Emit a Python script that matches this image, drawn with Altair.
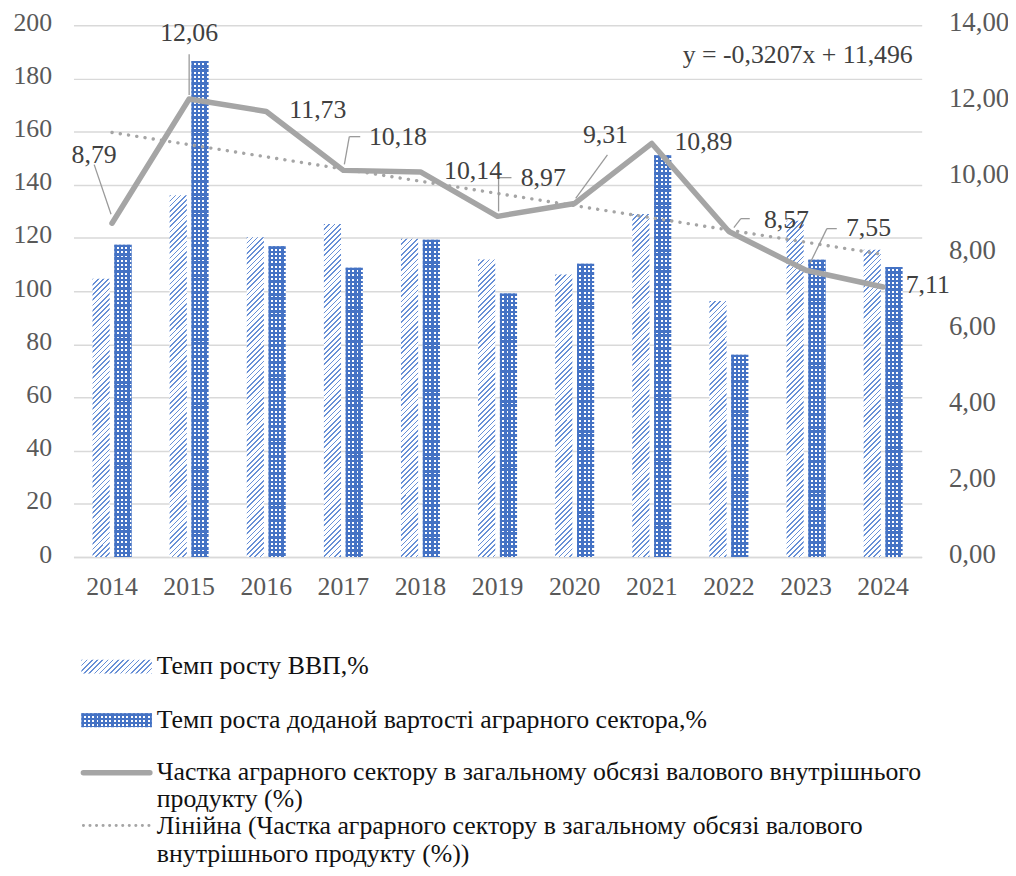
import math
import altair as alt
import pandas as pd

# ---------------- data ----------------
years = [2014, 2015, 2016, 2017, 2018, 2019, 2020, 2021, 2022, 2023, 2024]
gdp_growth = [104.7, 136.1, 120.3, 125.3, 119.7, 111.9, 106.3, 129.0, 96.3, 126.5, 115.6]
agri_growth = [117.5, 186.6, 116.9, 108.8, 119.3, 99.1, 110.3, 151.1, 76.1, 111.8, 109.1]
agri_share = [8.79, 12.06, 11.73, 10.18, 10.14, 8.97, 9.31, 10.89, 8.57, 7.55, 7.11]
left_ticks = [0, 20, 40, 60, 80, 100, 120, 140, 160, 180, 200]
right_ticks = [0, 2, 4, 6, 8, 10, 12, 14]
legend_lines = [
    ["Темп росту ВВП,%"],
    ["Темп роста доданой вартості аграрного сектора,%"],
    ["Частка аграрного сектору в загальному обсязі валового внутрішнього", "продукту (%)"],
    ["Лінійна (Частка аграрного сектору в загальному обсязі валового", "внутрішнього продукту (%))"],
]
trend_text = "y = -0,3207x + 11,496"

# ---------------- layout / style ----------------
W, H = 855, 536
N = len(years)
STEP = W / N
GROUP = 39.3
PI = 1 - GROUP / STEP
OFF_PI = 0.214
BW = GROUP / (2 - OFF_PI) * (1 - OFF_PI)
BLUE = "#4472C4"
HATCH = "#6890d6"
GRAY = "#A5A5A5"
LEAD = "#9A9A9A"
FONT = "Times New Roman, Liberation Serif, DejaVu Serif, serif"
AX_COL = "#595959"
LBL_COL = "#404040"


def r4(v):
    return round(v, 4)


def hatch_gradient(w, h, period=3.7, frac=0.32, color=HATCH, bg="#FFFFFF"):
    d = (w + h) / math.sqrt(2)
    n = d / period
    s = (w + h) / (w * w + h * h)
    stops = []
    k = 0
    while k < n:
        t0 = r4(k / n)
        t1 = r4(min((k + frac) / n, 1))
        t2 = r4(min((k + 1) / n, 1))
        stops += [
            {"offset": t0, "color": color},
            {"offset": t1, "color": color},
            {"offset": t1, "color": bg},
            {"offset": t2, "color": bg},
        ]
        k += 1
    return {"gradient": "linear", "x1": 0, "y1": 0, "x2": r4(w * s), "y2": r4(h * s), "stops": stops}


def stripe_gradient(length, vertical, period=4.3, frac=0.55, color=BLUE, bg="#FFFFFF"):
    n = length / period
    stops = []
    k = 0
    while k < n:
        t0 = r4(k / n)
        t1 = r4(min((k + frac) / n, 1))
        t2 = r4(min((k + 1) / n, 1))
        stops += [
            {"offset": t0, "color": color},
            {"offset": t1, "color": color},
            {"offset": t1, "color": bg},
            {"offset": t2, "color": bg},
        ]
        k += 1
    if vertical:
        return {"gradient": "linear", "x1": 0, "y1": 0, "x2": 0, "y2": 1, "stops": stops}
    return {"gradient": "linear", "x1": 0, "y1": 0, "x2": 1, "y2": 0, "stops": stops}


TRANSP = "rgba(68,114,196,0)"

bars_df = pd.DataFrame({
    "year": years * 2,
    "series": ["gdp"] * N + ["agri"] * N,
    "value": gdp_growth + agri_growth,
})
share_df = pd.DataFrame({"year": years, "share": agri_share})
one = pd.DataFrame({"a": [0]})

x_enc = alt.X(
    "year:O",
    scale=alt.Scale(domain=years, paddingInner=PI, paddingOuter=PI / 2),
    axis=alt.Axis(title=None, labelAngle=0, ticks=False, grid=False,
                  domainColor="#D9D9D9", domainWidth=1.5,
                  labelFont=FONT, labelFontSize=26, labelColor=AX_COL, labelPadding=17),
)
xoff_enc = alt.XOffset("series:N", scale=alt.Scale(domain=["gdp", "agri"], paddingInner=OFF_PI, paddingOuter=0))
y_left = alt.Y(
    "value:Q",
    scale=alt.Scale(domain=[0, 200], nice=False),
    axis=alt.Axis(title=None, values=left_ticks, grid=True, gridColor="#D9D9D9", gridWidth=1.5,
                  domain=False, ticks=False, labelFont=FONT, labelFontSize=26,
                  labelColor=AX_COL, labelPadding=22, labelOffset=-3),
)
y_right = alt.Y(
    "share:Q",
    scale=alt.Scale(domain=[0, 14], nice=False),
    axis=alt.Axis(title=None, orient="right", values=right_ticks, grid=False, domain=False,
                  ticks=False, labelFont=FONT, labelFontSize=27, labelColor=AX_COL,
                  labelPadding=27, labelOffset=-3,
                  labelExpr="replace(format(datum.value, '.2f'), '.', ',')"),
)

gdp_fill = {
    "condition": [
        {"test": f"datum.year === {yr}", "value": hatch_gradient(BW, v * H / 200)}
        for yr, v in zip(years, gdp_growth)
    ],
    "value": "#a9bde6",
}
agri_over_fill = {
    "condition": [
        {"test": f"datum.year === {yr}", "value": stripe_gradient(v * H / 200, True, bg=TRANSP)}
        for yr, v in zip(years, agri_growth)
    ],
    "value": TRANSP,
}

gdp_bars = alt.Chart(bars_df).transform_filter("datum.series === 'gdp'").mark_bar().encode(
    x=x_enc, xOffset=xoff_enc, y=y_left, fill=gdp_fill)
agri_base = alt.Chart(bars_df).transform_filter("datum.series === 'agri'").mark_bar(
    fill=stripe_gradient(BW, False)).encode(x=x_enc, xOffset=xoff_enc, y=y_left)
agri_over = alt.Chart(bars_df).transform_filter("datum.series === 'agri'").mark_bar().encode(
    x=x_enc, xOffset=xoff_enc, y=y_left, fill=agri_over_fill)

left_layer = alt.layer(gdp_bars, agri_base, agri_over)

share_line = alt.Chart(share_df).mark_line(
    color=GRAY, strokeWidth=5.5, strokeJoin="round", strokeCap="round").encode(x=x_enc, y=y_right)

trend = (
    alt.Chart(share_df)
    .transform_calculate(idx="datum.year - 2013")
    .transform_regression("idx", "share")
    .transform_calculate(year="datum.idx + 2013")
    .mark_line(color=GRAY, strokeWidth=3.4, strokeDash=[0.1, 8.3], strokeCap="round")
    .encode(x=x_enc, y=y_right)
)

label_offsets = {
    2014: (-18, -69), 2015: (0, -66), 2016: (52, -1), 2017: (55, -34), 2018: (53, -1),
    2019: (46, -39), 2020: (31, -69), 2021: (52, -1), 2022: (58, -12), 2023: (63, -43),
    2024: (45, -2),
}
leaders = {
    2014: [(-18, -59, -1, -9)],
    2015: [(0, -45, 0, -4)],
    2017: [(1, -6, 6, -34), (6, -34, 17, -34)],
    2019: [(1, -5, 1, -39), (1, -39, 14, -39)],
    2020: [(1, -5, 33, -49)],
    2022: [(5, -4, 12, -13), (12, -13, 21, -13)],
    2023: [(4, -7, 21, -42), (21, -42, 31, -42)],
}

label_layers = []
for yr, (dx, dy) in label_offsets.items():
    label_layers.append(
        alt.Chart(share_df)
        .transform_filter(f"datum.year === {yr}")
        .transform_calculate(label="replace(format(datum.share, '.2f'), '.', ',')")
        .mark_text(dx=dx, dy=dy, font=FONT, fontSize=26, color=LBL_COL, align="center", baseline="middle")
        .encode(x=x_enc, y=y_right, text="label:N")
    )

leader_layers = []
for yr, segs in leaders.items():
    for (a, b, c, d) in segs:
        leader_layers.append(
            alt.Chart(share_df)
            .transform_filter(f"datum.year === {yr}")
            .mark_rule(color=LEAD, strokeWidth=1.3, xOffset=a, yOffset=b, x2Offset=c, y2Offset=d)
            .encode(x=x_enc, x2=alt.X2("year", bandPosition=0.5), y=y_right, y2=alt.Y2("share"))
        )

equation = alt.Chart(one).mark_text(
    text=trend_text, align="right", baseline="middle", font=FONT, fontSize=26, color=LBL_COL
).encode(x=alt.value(846), y=alt.value(30))

# ---------------- legend ----------------
SW_X0, SW_X1, TX = 8, 79, 84
SW_W = SW_X1 - SW_X0
legend_layers = [
    alt.Chart(one).mark_rect(fill=hatch_gradient(SW_W, 14)).encode(
        x=alt.value(SW_X0), x2=alt.value(SW_X1), y=alt.value(639.5), y2=alt.value(653.5)),
    alt.Chart(one).mark_rect(fill=stripe_gradient(SW_W, False)).encode(
        x=alt.value(SW_X0), x2=alt.value(SW_X1), y=alt.value(693.5), y2=alt.value(707.5)),
    alt.Chart(one).mark_rect(fill=stripe_gradient(14, True, bg=TRANSP)).encode(
        x=alt.value(SW_X0), x2=alt.value(SW_X1), y=alt.value(693.5), y2=alt.value(707.5)),
    alt.Chart(one).mark_rule(color=GRAY, strokeWidth=5.5, strokeCap="round").encode(
        x=alt.value(SW_X0 + 2), x2=alt.value(SW_X1 - 2), y=alt.value(753.5)),
    alt.Chart(one).mark_rule(color=GRAY, strokeWidth=3, strokeDash=[0.1, 6.5], strokeCap="round").encode(
        x=alt.value(SW_X0 + 2), x2=alt.value(SW_X1), y=alt.value(806.5)),
]
legend_text_y = [[646], [700], [752.5, 779.5], [807, 835]]
for lines, ys in zip(legend_lines, legend_text_y):
    for txt, yy in zip(lines, ys):
        legend_layers.append(
            alt.Chart(one).mark_text(text=txt, align="left", baseline="middle", font=FONT,
                                     fontSize=26, color="#111111")
            .encode(x=alt.value(TX), y=alt.value(yy))
        )

right_layer = alt.layer(share_line, trend, *leader_layers, *label_layers, equation, *legend_layers)

chart = (
    alt.layer(left_layer, right_layer)
    .resolve_scale(y="independent")
    .properties(
        width=W, height=H,
        autosize=alt.AutoSizeParams(type="none"),
        padding={"left": 66, "top": 14, "right": 87, "bottom": 310},
        background="#FFFFFF",
    )
    .configure_view(stroke=None)
)

chart.save("out.html", embed_options={"renderer": "svg", "actions": False})
